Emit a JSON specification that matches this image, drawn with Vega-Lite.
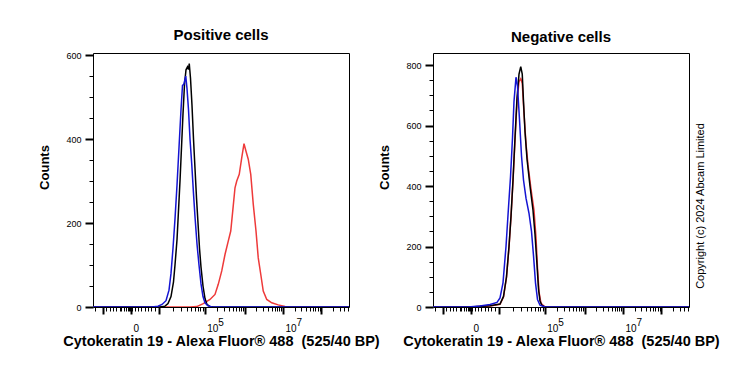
{
  "$schema": "https://vega.github.io/schema/vega-lite/v6.json",
  "background": "white",
  "padding": {"left": 38, "top": 27, "right": 5, "bottom": 5},
  "spacing": 84,
  "bounds": "flush",
  "title": {"text": "Copyright (c) 2024 Abcam Limited", "orient": "right", "angle": 270, "frame": "group", "anchor": "middle", "fontSize": 11, "fontWeight": "normal", "offset": -36, "dx": -26},
  "config": {
    "font": "Liberation Sans",
    "view": {"stroke": "black", "strokeWidth": 1},
    "axis": {"domain": false, "grid": false, "tickColor": "black", "labelColor": "black", "titleColor": "black", "labelFont": "Liberation Sans", "titleFont": "Liberation Sans"},
    "title": {"font": "Liberation Sans", "fontSize": 15, "fontWeight": "bold", "color": "black", "anchor": "middle", "offset": 8}
  },
  "datasets": {
    "pos": [
      {"series": "red", "channel": 0, "count": 0},
      {"series": "red", "channel": 388, "count": 0},
      {"series": "red", "channel": 415, "count": 1},
      {"series": "red", "channel": 441, "count": 8},
      {"series": "red", "channel": 468, "count": 18},
      {"series": "red", "channel": 488, "count": 30},
      {"series": "red", "channel": 501, "count": 54},
      {"series": "red", "channel": 515, "count": 86},
      {"series": "red", "channel": 528, "count": 125},
      {"series": "red", "channel": 541, "count": 157},
      {"series": "red", "channel": 551, "count": 181},
      {"series": "red", "channel": 559, "count": 229},
      {"series": "red", "channel": 568, "count": 284},
      {"series": "red", "channel": 575, "count": 300},
      {"series": "red", "channel": 585, "count": 316},
      {"series": "red", "channel": 595, "count": 356},
      {"series": "red", "channel": 604, "count": 389},
      {"series": "red", "channel": 612, "count": 371},
      {"series": "red", "channel": 621, "count": 352},
      {"series": "red", "channel": 631, "count": 316},
      {"series": "red", "channel": 641, "count": 245},
      {"series": "red", "channel": 652, "count": 181},
      {"series": "red", "channel": 661, "count": 117},
      {"series": "red", "channel": 671, "count": 78},
      {"series": "red", "channel": 681, "count": 38},
      {"series": "red", "channel": 695, "count": 18},
      {"series": "red", "channel": 715, "count": 10},
      {"series": "red", "channel": 741, "count": 5},
      {"series": "red", "channel": 768, "count": 1},
      {"series": "red", "channel": 788, "count": 0},
      {"series": "red", "channel": 1024, "count": 0},
      {"series": "black", "channel": 0, "count": 0},
      {"series": "black", "channel": 268, "count": 0},
      {"series": "black", "channel": 288, "count": 2},
      {"series": "black", "channel": 300, "count": 8},
      {"series": "black", "channel": 312, "count": 25},
      {"series": "black", "channel": 322, "count": 60},
      {"series": "black", "channel": 328, "count": 100},
      {"series": "black", "channel": 336, "count": 160},
      {"series": "black", "channel": 342, "count": 230},
      {"series": "black", "channel": 348, "count": 300},
      {"series": "black", "channel": 354, "count": 380},
      {"series": "black", "channel": 360, "count": 460},
      {"series": "black", "channel": 366, "count": 530},
      {"series": "black", "channel": 372, "count": 565},
      {"series": "black", "channel": 378, "count": 572},
      {"series": "black", "channel": 382, "count": 566},
      {"series": "black", "channel": 385, "count": 580},
      {"series": "black", "channel": 390, "count": 545},
      {"series": "black", "channel": 396, "count": 480},
      {"series": "black", "channel": 402, "count": 400},
      {"series": "black", "channel": 408, "count": 330},
      {"series": "black", "channel": 414, "count": 260},
      {"series": "black", "channel": 420, "count": 200},
      {"series": "black", "channel": 426, "count": 140},
      {"series": "black", "channel": 432, "count": 95},
      {"series": "black", "channel": 440, "count": 50},
      {"series": "black", "channel": 448, "count": 20},
      {"series": "black", "channel": 456, "count": 6},
      {"series": "black", "channel": 468, "count": 1},
      {"series": "black", "channel": 484, "count": 0},
      {"series": "black", "channel": 1024, "count": 0},
      {"series": "blue", "channel": 0, "count": 0},
      {"series": "blue", "channel": 236, "count": 0},
      {"series": "blue", "channel": 260, "count": 2},
      {"series": "blue", "channel": 276, "count": 6},
      {"series": "blue", "channel": 292, "count": 15},
      {"series": "blue", "channel": 304, "count": 40},
      {"series": "blue", "channel": 312, "count": 80},
      {"series": "blue", "channel": 320, "count": 140},
      {"series": "blue", "channel": 328, "count": 210},
      {"series": "blue", "channel": 336, "count": 290},
      {"series": "blue", "channel": 344, "count": 380},
      {"series": "blue", "channel": 352, "count": 470},
      {"series": "blue", "channel": 358, "count": 528},
      {"series": "blue", "channel": 363, "count": 530},
      {"series": "blue", "channel": 371, "count": 550},
      {"series": "blue", "channel": 376, "count": 520},
      {"series": "blue", "channel": 382, "count": 470},
      {"series": "blue", "channel": 388, "count": 400},
      {"series": "blue", "channel": 395, "count": 340},
      {"series": "blue", "channel": 402, "count": 270},
      {"series": "blue", "channel": 408, "count": 215},
      {"series": "blue", "channel": 416, "count": 150},
      {"series": "blue", "channel": 424, "count": 100},
      {"series": "blue", "channel": 432, "count": 55},
      {"series": "blue", "channel": 440, "count": 25},
      {"series": "blue", "channel": 448, "count": 10},
      {"series": "blue", "channel": 460, "count": 3},
      {"series": "blue", "channel": 476, "count": 0},
      {"series": "blue", "channel": 1024, "count": 0}
    ],
    "neg": [
      {"series": "red", "channel": 0, "count": 0},
      {"series": "red", "channel": 148, "count": 0},
      {"series": "red", "channel": 228, "count": 3},
      {"series": "red", "channel": 268, "count": 9},
      {"series": "red", "channel": 282, "count": 33},
      {"series": "red", "channel": 294, "count": 98},
      {"series": "red", "channel": 304, "count": 198},
      {"series": "red", "channel": 312, "count": 298},
      {"series": "red", "channel": 320, "count": 415},
      {"series": "red", "channel": 328, "count": 550},
      {"series": "red", "channel": 336, "count": 680},
      {"series": "red", "channel": 344, "count": 745},
      {"series": "red", "channel": 351, "count": 755},
      {"series": "red", "channel": 357, "count": 740},
      {"series": "red", "channel": 364, "count": 640},
      {"series": "red", "channel": 372, "count": 540},
      {"series": "red", "channel": 380, "count": 470},
      {"series": "red", "channel": 392, "count": 390},
      {"series": "red", "channel": 404, "count": 320},
      {"series": "red", "channel": 412, "count": 230},
      {"series": "red", "channel": 418, "count": 130},
      {"series": "red", "channel": 424, "count": 50},
      {"series": "red", "channel": 432, "count": 12},
      {"series": "red", "channel": 448, "count": 0},
      {"series": "red", "channel": 1024, "count": 0},
      {"series": "black", "channel": 0, "count": 0},
      {"series": "black", "channel": 148, "count": 0},
      {"series": "black", "channel": 228, "count": 4},
      {"series": "black", "channel": 268, "count": 10},
      {"series": "black", "channel": 282, "count": 35},
      {"series": "black", "channel": 294, "count": 100},
      {"series": "black", "channel": 304, "count": 200},
      {"series": "black", "channel": 312, "count": 300},
      {"series": "black", "channel": 320, "count": 420},
      {"series": "black", "channel": 328, "count": 560},
      {"series": "black", "channel": 336, "count": 690},
      {"series": "black", "channel": 344, "count": 770},
      {"series": "black", "channel": 351, "count": 795},
      {"series": "black", "channel": 357, "count": 770},
      {"series": "black", "channel": 362, "count": 680},
      {"series": "black", "channel": 368, "count": 580},
      {"series": "black", "channel": 376, "count": 490},
      {"series": "black", "channel": 388, "count": 400},
      {"series": "black", "channel": 400, "count": 320},
      {"series": "black", "channel": 408, "count": 240},
      {"series": "black", "channel": 416, "count": 140},
      {"series": "black", "channel": 422, "count": 60},
      {"series": "black", "channel": 428, "count": 20},
      {"series": "black", "channel": 436, "count": 5},
      {"series": "black", "channel": 448, "count": 0},
      {"series": "black", "channel": 1024, "count": 0},
      {"series": "blue", "channel": 0, "count": 0},
      {"series": "blue", "channel": 140, "count": 0},
      {"series": "blue", "channel": 188, "count": 3},
      {"series": "blue", "channel": 228, "count": 8},
      {"series": "blue", "channel": 256, "count": 15},
      {"series": "blue", "channel": 268, "count": 30},
      {"series": "blue", "channel": 280, "count": 80},
      {"series": "blue", "channel": 292, "count": 200},
      {"series": "blue", "channel": 302, "count": 330},
      {"series": "blue", "channel": 310, "count": 430},
      {"series": "blue", "channel": 318, "count": 560},
      {"series": "blue", "channel": 324, "count": 680},
      {"series": "blue", "channel": 332, "count": 760},
      {"series": "blue", "channel": 338, "count": 730},
      {"series": "blue", "channel": 346, "count": 620},
      {"series": "blue", "channel": 354, "count": 500},
      {"series": "blue", "channel": 362, "count": 420},
      {"series": "blue", "channel": 372, "count": 360},
      {"series": "blue", "channel": 384, "count": 310},
      {"series": "blue", "channel": 394, "count": 250},
      {"series": "blue", "channel": 402, "count": 170},
      {"series": "blue", "channel": 410, "count": 80},
      {"series": "blue", "channel": 418, "count": 25},
      {"series": "blue", "channel": 428, "count": 6},
      {"series": "blue", "channel": 448, "count": 0},
      {"series": "blue", "channel": 1024, "count": 0}
    ]
  },
  "hconcat": [
    {
      "width": 256,
      "height": 254,
      "title": {"text": "Positive cells"},
      "data": {"name": "pos"},
      "mark": {"type": "line", "strokeWidth": 1.5, "clip": true},
      "encoding": {
        "x": {
          "field": "channel", "type": "quantitative",
          "scale": {"domain": [0, 1024], "nice": false, "zero": false},
          "axis": {
            "title": "Cytokeratin 19 - Alexa Fluor® 488\u00a0 (525/40 BP)",
            "titleFontSize": 14.5, "titleFontWeight": "bold", "titlePadding": 1,
            "values": [8, 40, 53, 67, 80, 93, 107, 113, 124, 133, 140, 145, 148, 150, 152, 155, 167, 180, 193, 207, 220, 233, 247, 263, 318, 351, 374, 392, 406, 419, 429, 438, 447, 495, 523, 543, 559, 572, 582, 591, 600, 607, 653, 680, 699, 714, 726, 736, 745, 753, 760, 806, 833, 852, 867, 879, 889, 898, 906, 913, 959, 986, 1005, 1020],
            "labelExpr": "datum.value == 152 ? ['', '0'] : datum.value == 447 ? ['\u200b\u00a0\u00a0\u00a0\u00a05', '10'] : datum.value == 760 ? ['\u200b\u00a0\u00a0\u00a0\u00a07', '10'] : ''",
            "labelFontSize": 10, "labelOffset": 2, "labelAlign": "left", "labelLineHeight": 6, "labelPadding": 3, "labelFlush": false, "labelOverlap": false,
            "tickSize": {"condition": {"test": "indexof([40,152,263,447,607,760,913], datum.value) >= 0", "value": 7}, "value": 4},
            "tickWidth": {"condition": {"test": "indexof([40,152,263,447,607,760,913], datum.value) >= 0", "value": 2}, "value": 1}
          }
        },
        "y": {
          "field": "count", "type": "quantitative",
          "scale": {"domain": [0, 605], "nice": false},
          "axis": {
            "title": "Counts", "titleFontSize": 13, "titleFontWeight": "bold", "titlePadding": 14, "titleY": 114,
            "labelFontSize": 9, "labelPadding": 4,
            "values": [0, 50, 100, 150, 200, 250, 300, 350, 400, 450, 500, 550, 600],
            "labelExpr": "datum.value % 200 == 0 ? datum.label : ''",
            "tickSize": {"condition": {"test": "datum.value % 200 == 0", "value": 8}, "value": 4},
            "tickWidth": {"condition": {"test": "datum.value % 200 == 0", "value": 2}, "value": 1}
          }
        },
        "color": {
          "field": "series", "type": "nominal",
          "scale": {"domain": ["red", "black", "blue"], "range": ["#ee3a3a", "#000000", "#1414d2"]},
          "legend": null
        }
      }
    },
    {
      "width": 256,
      "height": 254,
      "title": {"text": "Negative cells"},
      "data": {"name": "neg"},
      "mark": {"type": "line", "strokeWidth": 1.5, "clip": true},
      "encoding": {
        "x": {
          "field": "channel", "type": "quantitative",
          "scale": {"domain": [0, 1024], "nice": false, "zero": false},
          "axis": {
            "title": "Cytokeratin 19 - Alexa Fluor® 488\u00a0 (525/40 BP)",
            "titleFontSize": 14.5, "titleFontWeight": "bold", "titlePadding": 1,
            "values": [8, 40, 53, 67, 80, 93, 107, 113, 124, 133, 140, 145, 148, 150, 152, 155, 167, 180, 193, 207, 220, 233, 247, 263, 318, 351, 374, 392, 406, 419, 429, 438, 447, 495, 523, 543, 559, 572, 582, 591, 600, 607, 653, 680, 699, 714, 726, 736, 745, 753, 760, 806, 833, 852, 867, 879, 889, 898, 906, 913, 959, 986, 1005, 1020],
            "labelExpr": "datum.value == 152 ? ['', '0'] : datum.value == 447 ? ['\u200b\u00a0\u00a0\u00a0\u00a05', '10'] : datum.value == 760 ? ['\u200b\u00a0\u00a0\u00a0\u00a07', '10'] : ''",
            "labelFontSize": 10, "labelOffset": 2, "labelAlign": "left", "labelLineHeight": 6, "labelPadding": 3, "labelFlush": false, "labelOverlap": false,
            "tickSize": {"condition": {"test": "indexof([40,152,263,447,607,760,913], datum.value) >= 0", "value": 7}, "value": 4},
            "tickWidth": {"condition": {"test": "indexof([40,152,263,447,607,760,913], datum.value) >= 0", "value": 2}, "value": 1}
          }
        },
        "y": {
          "field": "count", "type": "quantitative",
          "scale": {"domain": [0, 840], "nice": false},
          "axis": {
            "title": "Counts", "titleFontSize": 13, "titleFontWeight": "bold", "titlePadding": 14, "titleY": 114,
            "labelFontSize": 9, "labelPadding": 4,
            "values": [0, 50, 100, 150, 200, 250, 300, 350, 400, 450, 500, 550, 600, 650, 700, 750, 800],
            "labelExpr": "datum.value % 200 == 0 ? datum.label : ''",
            "tickSize": {"condition": {"test": "datum.value % 200 == 0", "value": 8}, "value": 4},
            "tickWidth": {"condition": {"test": "datum.value % 200 == 0", "value": 2}, "value": 1}
          }
        },
        "color": {
          "field": "series", "type": "nominal",
          "scale": {"domain": ["red", "black", "blue"], "range": ["#ee3a3a", "#000000", "#1414d2"]},
          "legend": null
        }
      }
    }
  ]
}
